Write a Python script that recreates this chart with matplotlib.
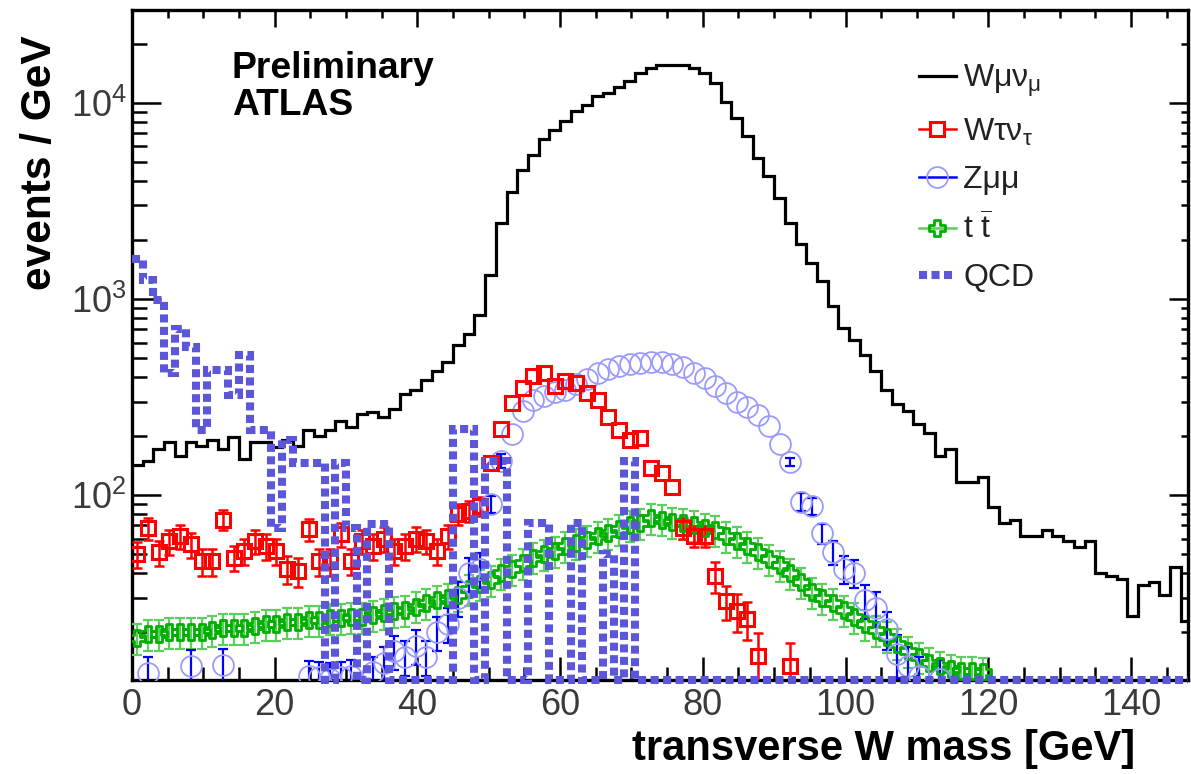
import numpy as np
import matplotlib.pyplot as plt
from matplotlib.path import Path
from matplotlib.lines import Line2D

plt.rcParams['font.family'] = ['Liberation Sans', 'DejaVu Sans']
plt.rcParams['mathtext.fontset'] = 'custom'
plt.rcParams['mathtext.rm'] = 'Liberation Sans'
plt.rcParams['mathtext.it'] = 'Liberation Sans:italic'
plt.rcParams['mathtext.bf'] = 'Liberation Sans:bold'

nan = np.nan
bin_width = 1.5
x_max = 148.0
y_min, y_max = 11.4, 2.98e4

# W -> mu nu (histogram, 1.5 GeV bins starting at 0)
w_munu = [143, 150, 172, 186, 159, 186, 179, 192, 172, 199,
          153, 186, 186, 175, 190, 179, 214, 201, 214, 240,
          222, 260, 265, 250, 276, 329, 342, 385, 430, 478,
          581, 661, 826, 1324, 2450, 3526, 4550, 5425, 6546, 7280,
          8090, 9100, 9770, 10860, 11290, 12120, 12950, 14180, 15150, 15630,
          15630, 15630, 15150, 14180, 12600, 10120, 8360, 6765, 5260, 4240,
          3280, 2450, 1905, 1528, 1237, 918, 715, 616, 516, 430,
          342, 292, 267, 231, 207, 159, 172, 116, 116, 124,
          86.7, 71.9, 74.8, 62.2, 62.2, 66.7, 62.2, 58, 54.2, 58,
          40.1, 38.8, 37.3, 24.3, 34.9, 36.2, 31.1, 43.2, 22.7]

# W -> tau nu (points per bin), relative errors (0 = bar hidden by marker)
w_taunu = [50, 68, 51, 58, 62, 56, 46, 46, 75, 48,
           52, 58, 55, 52, 42, 41, 67, 46, 46, 63,
           46, 58, 55, 60, 52, 55, 60, 58, 52, 62,
           80, 83, 88, 145, 218, 296, 350, 403, 418, 362,
           380, 372, 330, 305, 250, 215, 190, 195, 138, 130,
           110, 68, 62, 62, 38.8, 28.8, 25.7, 23.4, 15.2, nan,
           nan, 13.5]
w_taunu_rel = [0.15, 0.13, 0.15, 0.15, 0.14, 0.15, 0.16, 0.16, 0.12, 0.15,
               0.15, 0.14, 0.15, 0.15, 0.16, 0.17, 0.13, 0.16, 0.16, 0.14,
               0.15, 0.14, 0.15, 0.15, 0.15, 0.15, 0.15, 0.14, 0.15, 0.14,
               0.12, 0.12, 0.11, 0, 0, 0, 0, 0, 0, 0,
               0, 0, 0, 0, 0, 0, 0, 0, 0, 0,
               0, 0.12, 0.12, 0.12, 0.18, 0.2, 0.22, 0.22, 0.3, 0.3,
               0.3, 0.3]

# Z -> mu mu (points per bin)
z_mumu = [nan, 12.4, nan, nan, nan, 13.5, nan, nan, 13.6, nan,
          nan, nan, nan, nan, nan, nan, 11.9, 11.8, 11.6, 11.8,
          12.0, nan, 12.5, 14, 16, 15, 17, 15, 20, 22,
          30, 40, 42, 90, 150, 206, 270, 304, 320, 334,
          345, 370, 390, 420, 440, 455, 465, 470, 475, 475,
          465, 450, 420, 394, 360, 330, 300, 280, 255, 226,
          182, 148, 92.7, 88, 63.7, 51, 42, 40, 29, 26.7,
          20.8, 15.5, 13.5, 12.0, nan, 11.6]
z_mumu_rel = [0.2] * 33 + [0.1, 0.08] + [0] * 26 + [0.05, 0.1, 0.1, 0.12, 0.14, 0.16, 0.16,
                                                    0.2, 0.2, 0.22, 0.25, 0.25, 0.25, 0.25, 0.25]

# t tbar (points per bin)
t_tbar = [18.7, 19.5, 19.5, 20, 20, 20, 20, 20.5, 21, 21,
          21, 21.5, 22, 22, 22.5, 22.5, 23, 23, 23.5, 23.5,
          24, 24, 24.5, 25, 25.5, 26, 27, 28, 29, 30,
          31, 33, 35, 37, 40, 42, 45, 48, 50, 52,
          55, 57, 59, 62, 64, 67, 70, 72, 76, 75,
          73, 72, 70, 68, 66, 62, 58, 55, 51, 47,
          44, 40, 36, 32, 30, 28, 26, 24, 22, 20.5,
          19, 17.5, 16, 15, 14, 13.5, 13, 12.7, 12.6, 12.5]
t_tbar_rel = [0.18] * len(t_tbar)

# QCD multijet (histogram, 0 = empty bin)
qcd = [1600, 1250, 990, 420, 705, 570, 214, 433, 433, 323,
       516, 214, 214, 68, 190, 145, 145, 145, 0, 145,
       68, 0, 71, 71, 0, 0, 0, 0, 0, 0,
       218, 218, 0, 150, 150, 0, 0, 72, 72, 0,
       0, 72, 0, 0, 50, 0, 150, 0, 0, 0,
       0, 0, 0, 0, 0, 0, 0, 0, 0, 0,
       0, 0, 0, 0, 0, 0, 0, 0, 0, 0,
       0, 0, 0, 0, 0, 0, 0, 0, 0, 0,
       0, 0, 0, 0, 0, 0, 0, 0, 0, 0,
       0, 0, 0, 0, 0, 0, 0, 0, 0]

red = '#ff0000'
circle_col = '#9a9aff'
blue_err = '#0000ff'
green = '#00b000'
light_green = '#5ccf5c'
qcd_col = '#5b57d8'


def bin_centers(vals):
    return bin_width * (np.arange(len(vals)) + 0.5)


def bin_edges(n):
    return np.minimum(bin_width * np.arange(n + 1), x_max)


def draw_errors(vals, rel, color, lw):
    x = bin_centers(vals)
    y = np.array(vals, dtype=float)
    r = np.array(rel, dtype=float)
    keep = (r > 0) & np.isfinite(y)
    ax.errorbar(x[keep], y[keep], yerr=y[keep] * r[keep], fmt='none', ecolor=color,
                elinewidth=lw, capsize=3.5, capthick=lw, zorder=3)


# open cross marker
h = 1.0 / 3.0
cross_verts = [(-h, 1), (h, 1), (h, h), (1, h), (1, -h), (h, -h), (h, -1),
               (-h, -1), (-h, -h), (-1, -h), (-1, h), (-h, h), (-h, 1)]
open_cross = Path(cross_verts, closed=True)

fig = plt.figure(figsize=(11.91, 7.74), dpi=100)
ax = fig.add_axes([132 / 1191, 1 - 680 / 774, 1056 / 1191, 670 / 774])
ax.set_yscale('log')

# t tbar
draw_errors(t_tbar, t_tbar_rel, light_green, 1.6)
ax.plot(bin_centers(t_tbar), t_tbar, ls='none', marker=open_cross, ms=11, mfc='none',
        mec=green, mew=2.0, zorder=4)

# Z -> mu mu
draw_errors(z_mumu, z_mumu_rel, blue_err, 1.6)
ax.plot(bin_centers(z_mumu), z_mumu, ls='none', marker='o', ms=15, mfc='none',
        mec=circle_col, mew=1.3, zorder=4)

# W -> tau nu
draw_errors(w_taunu, w_taunu_rel, red, 1.8)
ax.plot(bin_centers(w_taunu), w_taunu, ls='none', marker='s', ms=10, mfc='none',
        mec=red, mew=2.2, zorder=5)

# W -> mu nu
ax.stairs(w_munu, bin_edges(len(w_munu)), color='black', lw=2.3, baseline=None, zorder=6)

# QCD, empty bins sit on the lower frame edge
qcd_draw = np.where(np.array(qcd) > 0, qcd, y_min)
ax.stairs(qcd_draw, bin_edges(len(qcd)), color=qcd_col, lw=5.8, baseline=None,
          linestyle=(0, (1.0, 0.55)), clip_on=False, zorder=7)

ax.set_xlim(0, x_max)
ax.set_ylim(y_min, y_max)

for s in ax.spines.values():
    s.set_linewidth(2.4)

ax.set_xticks(np.arange(0, 141, 20))
ax.set_xticks(np.arange(0, 148, 5), minor=True)
ax.tick_params(axis='both', which='both', direction='in', width=1.8, colors='black',
               labelcolor='#3a3a3a', labelsize=26)
ax.tick_params(axis='x', which='major', length=16.5, pad=6)
ax.tick_params(axis='x', which='minor', length=9.4)
ax.tick_params(axis='y', which='major', length=21, pad=4)
ax.tick_params(axis='y', which='minor', length=10.5)

# opposite-side ticks
axr = ax.twinx()
axr.set_yscale('log')
axr.set_ylim(y_min, y_max)
axr.tick_params(axis='y', which='major', direction='in', length=14, width=1.8, labelright=False)
axr.tick_params(axis='y', which='minor', direction='in', length=5, width=1.8)
axt = ax.twiny()
axt.set_xlim(0, x_max)
axt.set_xticks(np.arange(0, 141, 20))
axt.set_xticks(np.arange(0, 148, 5), minor=True)
axt.tick_params(axis='x', which='major', direction='in', length=12, width=1.8, labeltop=False)
axt.tick_params(axis='x', which='minor', direction='in', length=5.8, width=1.8)
for a in (axr, axt):
    for s in a.spines.values():
        s.set_visible(False)

fig.text(1135 / 1191, 1 - 760 / 774, 'transverse W mass [GeV]', ha='right', va='baseline',
         fontsize=30, fontweight='bold')
fig.text(20 / 1191, 1 - 35 / 774, 'events / GeV', ha='right', va='top', rotation=90,
         fontsize=30.5, fontweight='bold', rotation_mode='anchor')

fig.text(232 / 1191, 1 - 78 / 774, 'Preliminary', fontsize=26.8, fontweight='bold', va='baseline')
fig.text(232 / 1191, 1 - 115 / 774, 'ATLAS', fontsize=26.8, fontweight='bold', va='baseline')

handles = [
    Line2D([], [], color='black', lw=2.3),
    Line2D([], [], color=red, lw=1.8, marker='s', ms=10, mfc='white', mec=red, mew=2.2),
    Line2D([], [], color=blue_err, lw=1.8, marker='o', ms=15, mfc='none', mec=circle_col, mew=1.3),
    Line2D([], [], color=light_green, lw=1.8, marker=open_cross, ms=11, mfc='none', mec=green, mew=2.0),
    Line2D([], [], color=qcd_col, lw=5.8, linestyle=(0, (1.0, 0.55))),
]
labels = ['Wμν$_{\\mathrm{μ}}$', 'Wτν$_{\\mathrm{τ}}$', 'Zμμ', 't $\\overline{\\mathrm{t}}$', 'QCD']
leg = fig.legend(handles, labels, loc='upper left', bbox_to_anchor=(906 / 1191, 1 - 50 / 774),
                 frameon=False, fontsize=23, handlelength=1.15, handletextpad=0.25,
                 labelspacing=0.55, borderaxespad=0)
for t in leg.get_texts():
    t.set_color('#222222')

fig.savefig('out.png', dpi=100)
